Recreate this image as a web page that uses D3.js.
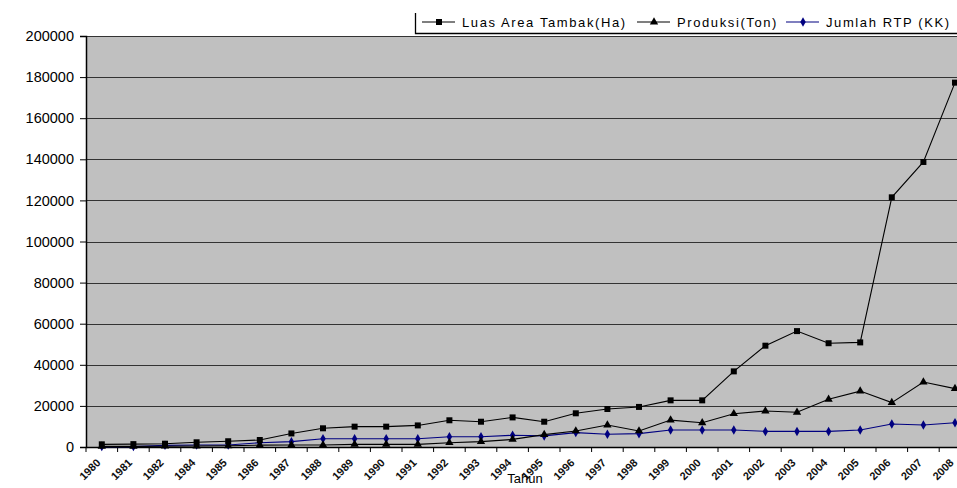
<!DOCTYPE html>
<html>
<head>
<meta charset="utf-8">
<script src="https://cdn.jsdelivr.net/npm/d3@7"></script>
<style>
  body { margin: 0; background: #fff; overflow: hidden; }
  svg { display: block; font-family: "Liberation Sans", Arial, sans-serif; }
</style>
</head>
<body>
<div id="chart"></div>
<script>
// data
const years = ["1980", "1981", "1982", "1984", "1985", "1986", "1987", "1988", "1989", "1990",
  "1991", "1992", "1993", "1994", "1995", "1996", "1997", "1998", "1999", "2000",
  "2001", "2002", "2003", "2004", "2005", "2006", "2007", "2008"];

const luasArea = [1300, 1400, 1600, 2300, 2800, 3400, 6600, 9100, 9900, 9900,
  10500, 13000, 12300, 14400, 12300, 16400, 18500, 19500, 22700, 22700,
  36800, 49300, 56400, 50500, 50900, 121500, 138700, 177300];

const produksi = [300, 300, 400, 500, 600, 900, 1000, 1000, 1300, 1300,
  1300, 2100, 2600, 3700, 6000, 7800, 10700, 7800, 13100, 11800,
  16200, 17500, 16900, 23200, 27200, 21600, 31600, 28400];

const jumlahRTP = [200, 200, 800, 1000, 1000, 2100, 2600, 4000, 4000, 4000,
  4000, 5000, 5000, 5700, 5400, 7000, 6200, 6500, 8300, 8300,
  8300, 7600, 7600, 7600, 8300, 11200, 10700, 11800];

const yTicks = [0, 20000, 40000, 60000, 80000, 100000, 120000, 140000, 160000, 180000, 200000];

const seriesNames = ["Luas Area Tambak(Ha)", "Produksi(Ton)", "Jumlah RTP (KK)"];

const W = 957, H = 488;
const plot = { left: 86, top: 36, bottom: 447, right: 86 + 28 * 31.6 };

const svg = d3.select("#chart").append("svg")
  .attr("width", W)
  .attr("height", H);

const x = d3.scaleBand()
  .domain(years)
  .range([plot.left, plot.right])
  .padding(0);

const y = d3.scaleLinear()
  .domain([0, 200000])
  .range([plot.bottom, plot.top]);

const cx = d => x(d) + x.bandwidth() / 2;

// plot background
svg.append("rect")
  .attr("x", plot.left)
  .attr("y", plot.top)
  .attr("width", plot.right - plot.left)
  .attr("height", plot.bottom - plot.top)
  .attr("fill", "#c0c0c0");

// gridlines
svg.append("g")
  .selectAll("line")
  .data(yTicks.filter(d => d > 0))
  .enter()
  .append("line")
  .attr("x1", plot.left)
  .attr("x2", plot.right)
  .attr("y1", d => Math.round(y(d)) + 0.5)
  .attr("y2", d => Math.round(y(d)) + 0.5)
  .attr("stroke", "#333")
  .attr("stroke-width", 1.2);

// y axis
const yAxis = svg.append("g")
  .attr("transform", `translate(${plot.left},0)`)
  .call(d3.axisLeft(y).tickValues(yTicks).tickSize(6).tickPadding(6).tickFormat(d3.format("d")));
yAxis.select(".domain").attr("stroke", "#000").attr("stroke-width", 1.5);
yAxis.selectAll(".tick line").attr("stroke", "#000");
yAxis.selectAll("text")
  .attr("font-size", 14.5)
  .attr("fill", "#000")
  .attr("font-family", "Liberation Sans, Arial, sans-serif");

// x axis, ticks on the category edges
const xAxis = svg.append("g")
  .attr("transform", `translate(0,${plot.bottom})`)
  .call(d3.axisBottom(x).tickSize(0).tickFormat(""));
xAxis.select(".domain").attr("stroke", "#000").attr("stroke-width", 1.5);

svg.append("g")
  .selectAll("line")
  .data(years)
  .enter()
  .append("line")
  .attr("x1", d => x(d))
  .attr("x2", d => x(d))
  .attr("y1", plot.bottom)
  .attr("y2", plot.bottom + 5)
  .attr("stroke", "#000");

svg.append("g")
  .selectAll("text")
  .data(years)
  .enter()
  .append("text")
  .attr("transform", d => `translate(${cx(d) - 6},${plot.bottom + 11}) rotate(-45)`)
  .attr("text-anchor", "end")
  .attr("dy", "0.7em")
  .attr("font-size", 11)
  .attr("font-weight", "bold")
  .attr("fill", "#111")
  .text(d => d);

svg.append("text")
  .attr("x", 525)
  .attr("y", 483)
  .attr("text-anchor", "middle")
  .attr("font-size", 13)
  .text("Tahun");

// lines + markers
const line = d3.line()
  .x((d, i) => cx(years[i]))
  .y(d => y(d));

const series = [
  { values: luasArea, color: "#000", symbol: d3.symbolSquare, size: 36 },
  { values: produksi, color: "#000", symbol: d3.symbolTriangle, size: 30 },
  { values: jumlahRTP, color: "#000080", symbol: d3.symbolDiamond, size: 26 }
];

series.slice().reverse().forEach(s => {
  svg.append("path")
    .datum(s.values)
    .attr("d", line)
    .attr("fill", "none")
    .attr("stroke", s.color)
    .attr("stroke-width", 1.1);

  svg.append("g")
    .selectAll("path")
    .data(s.values)
    .enter()
    .append("path")
    .attr("transform", (d, i) => `translate(${cx(years[i])},${y(d)})`)
    .attr("d", d3.symbol().type(s.symbol).size(s.size))
    .attr("fill", s.color);
});

// legend, only its left and bottom edges show
const legend = svg.append("g");
legend.append("rect")
  .attr("x", 415)
  .attr("y", 12)
  .attr("width", 560)
  .attr("height", 22)
  .attr("fill", "#fff");
legend.append("path")
  .attr("d", "M415.5,13V33.5H957")
  .attr("fill", "none")
  .attr("stroke", "#000")
  .attr("stroke-width", 1.3);

const legendItems = [
  { x: 422, text: seriesNames[0], s: series[0] },
  { x: 637, text: seriesNames[1], s: series[1] },
  { x: 786, text: seriesNames[2], s: series[2] }
];

legendItems.forEach(item => {
  legend.append("line")
    .attr("x1", item.x)
    .attr("x2", item.x + 33)
    .attr("y1", 22)
    .attr("y2", 22)
    .attr("stroke", item.s.color)
    .attr("stroke-width", 1.2);
  legend.append("path")
    .attr("transform", `translate(${item.x + 17},22)`)
    .attr("d", d3.symbol().type(item.s.symbol).size(item.s.size))
    .attr("fill", item.s.color);
  legend.append("text")
    .attr("x", item.x + 40)
    .attr("y", 27)
    .attr("font-size", 13)
    .attr("letter-spacing", 1.6)
    .attr("fill", "#000")
    .text(item.text);
});
</script>
</body>
</html>
